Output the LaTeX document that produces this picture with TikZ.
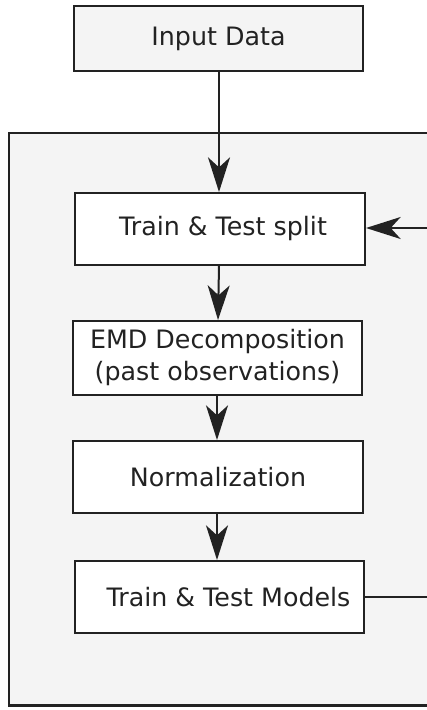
\documentclass[tikz,border=0pt]{standalone}
\usepackage{fontspec}
\setmainfont{DejaVu Sans}
\usetikzlibrary{arrows.meta}
\definecolor{panel}{HTML}{F4F4F4}
\definecolor{ink}{HTML}{222222}
\tikzset{
  x=0.75pt, y=-0.75pt,
  stagebox/.style={draw=ink, line width=1.5pt, fill=white, inner sep=0pt,
    font=\fontsize{19}{24}\selectfont, align=center, text=ink, anchor=north west},
  flow/.style={draw=ink, line width=1.5pt,
    -{Stealth[length=26pt, width=16.5pt, inset=7.5pt]}},
  plainline/.style={draw=ink, line width=1.5pt}
}
\begin{document}
\begin{tikzpicture}
\useasboundingbox (0,0) rectangle (427,710);
\clip (0,0) rectangle (427,710);
% outer panel around the processing loop
\draw[draw=ink, line width=2pt, fill=panel] (9,133) rectangle (440,705.5);
% input box
\node[stagebox, fill=panel, minimum width=216.75pt, minimum height=48.75pt] (input) at (73,5) {Input Data};
% stages
\node[stagebox, minimum width=217.5pt, minimum height=54pt] (split) at (74,192) {\hspace{4.5pt}Train \& Test split};
\node[stagebox, minimum width=216.75pt, minimum height=55.5pt] (emd) at (72,320) {EMD Decomposition\\(past observations)};
\node[stagebox, minimum width=217.5pt, minimum height=54pt] (norm) at (72,440) {Normalization};
\node[stagebox, minimum width=216.75pt, minimum height=54pt] (models) at (74,560) {\hspace{13.5pt}Train \& Test Models};
% connectors
\draw[flow] (input.south -| 219,0) -- (split.north -| 219,0);
\draw[flow] (split.south -| 219,0) -- (emd.north -| 218,0);
\draw[flow] (emd.south -| 217,0) -- (norm.north -| 217,0);
\draw[flow] (norm.south -| 217,0) -- (models.north -| 217,0);
% feedback loop along the right edge
\coordinate (loopbot) at (440,597);
\coordinate (looptop) at (440,228);
\draw[plainline] (models.east |- loopbot) -- (loopbot) -- (looptop);
\draw[flow] (looptop) -- (split.east |- looptop);
\end{tikzpicture}
\end{document}
